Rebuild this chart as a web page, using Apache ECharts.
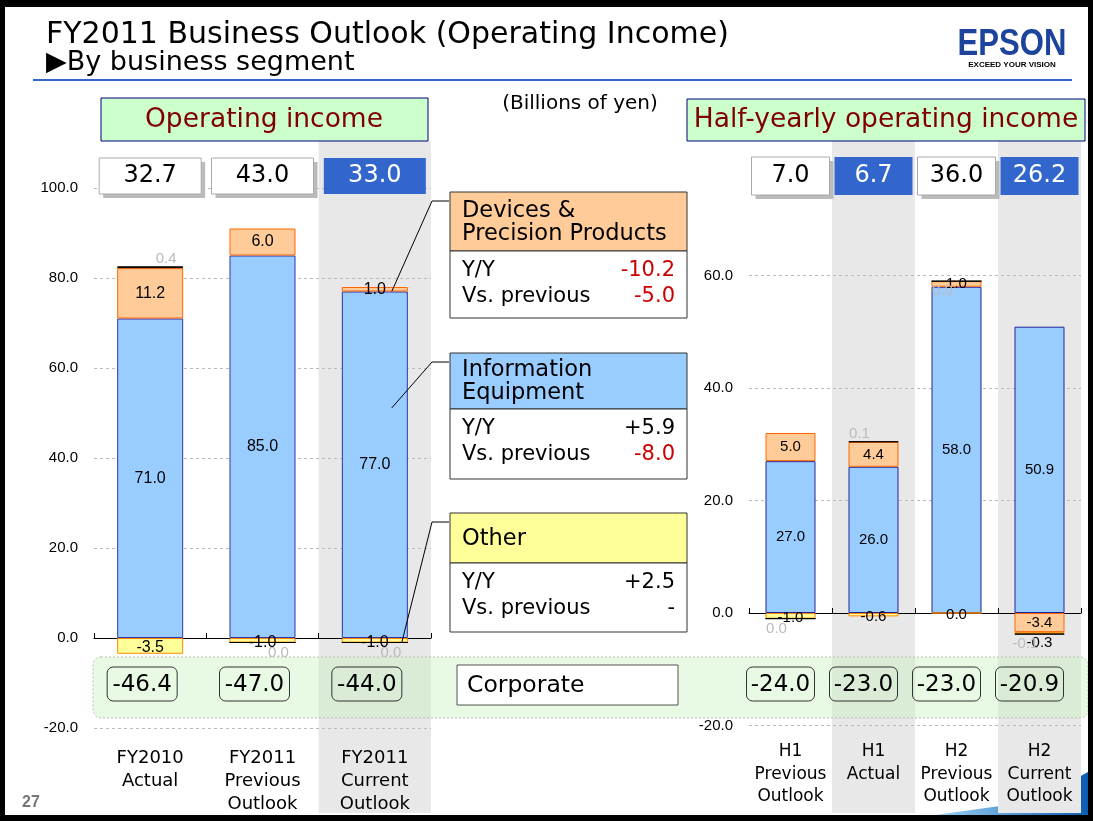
<!DOCTYPE html>
<html>
<head>
<meta charset="utf-8">
<script src="https://cdn.jsdelivr.net/npm/echarts@6/dist/echarts.min.js"></script>
<style>
html, body { margin: 0; padding: 0; background: #fff; }
#main { width: 1093px; height: 821px; }
</style>
</head>
<body>
<div id="main"></div>
<script>
// full year, billions of yen
var yearCats = ['FY2010\nActual', 'FY2011\nPrevious\nOutlook', 'FY2011\nCurrent\nOutlook'];
var infoYear = [71.0, 85.0, 77.0];
var devicesYear = [11.2, 6.0, 1.0];
var otherYear = [-3.5, -1.0, -1.0];
var elimYear = [0.4, 0.0, 0.0];
var corporateYear = [-46.4, -47.0, -44.0];
var totalYear = [32.7, 43.0, 33.0];
var currentYear = [false, false, true];

// half years
var halfCats = ['H1\nPrevious\nOutlook', 'H1\nActual', 'H2\nPrevious\nOutlook', 'H2\nCurrent\nOutlook'];
var infoHalf = [27.0, 26.0, 58.0, 50.9];
var devicesHalf = [5.0, 4.4, 1.0, -3.4];
var otherHalf = [-1.0, -0.6, 0.0, -0.3];
var elimHalf = [0.0, 0.1, 0.0, -0.1];
var corporateHalf = [-24.0, -23.0, -23.0, -20.9];
var totalHalf = [7.0, 6.7, 36.0, 26.2];
var currentHalf = [false, true, false, true];

// segment boxes
var segNames = ['Devices &\nPrecision Products', 'Information\nEquipment', 'Other'];
var segYoY = ['-10.2', '+5.9', '+2.5'];
var segVsPrev = ['-5.0', '-8.0', '-'];

var NUM = '"Liberation Sans", Arial, sans-serif';
var UI = '"DejaVu Sans", sans-serif';

function fmt(p) {
	return Number(p.value).toFixed(1);
}

function seg(name, data, side, fill, stroke, size, extra) {
	var s = {
		name: name,
		type: 'bar',
		xAxisIndex: side ? 2 : 0,
		yAxisIndex: side ? 1 : 0,
		stack: side ? 'half' : 'year',
		barWidth: side ? 50 : 66,
		data: data,
		itemStyle: { color: fill, borderColor: stroke, borderWidth: 1 },
		label: { show: true, position: 'inside', color: '#000', fontFamily: NUM, fontSize: size, formatter: fmt }
	};
	for (var k in extra) s[k] = extra[k];
	return s;
}

// small "other" values get their label under the bar
function otherData(arr) {
	return arr.map(function (v) {
		return Math.abs(v) < 0.5 && v !== 0 ? { value: v, label: { position: 'bottom', distance: 2 } } : { value: v, label: { offset: [0, 2] } };
	});
}

function elimData(arr, dx) {
	return arr.map(function (v) {
		return { value: v, label: { position: v > 0 ? 'top' : 'bottom', offset: [dx, v > 0 ? 5 : -3] } };
	});
}

function zeroAxis(grid, cats) {
	return {
		type: 'category', gridIndex: grid, data: cats, position: 'bottom',
		axisLine: { onZero: true, lineStyle: { color: '#000', width: 1 } },
		axisTick: { show: true, inside: true, length: 5, interval: 0, lineStyle: { color: '#000' } },
		axisLabel: { show: false },
		splitLine: { show: false }
	};
}

function labelAxis(grid, cats, size, lh, margin) {
	return {
		type: 'category', gridIndex: grid, data: cats, position: 'bottom',
		axisLine: { show: false, onZero: false },
		axisTick: { show: false },
		splitLine: { show: false },
		axisLabel: { interval: 0, margin: margin, color: '#000', fontFamily: UI, fontSize: size, lineHeight: lh }
	};
}

function valAxis(grid, max) {
	return {
		type: 'value', gridIndex: grid, min: -20, max: max, interval: 20,
		axisLine: { show: false },
		axisTick: { show: false },
		axisLabel: { margin: 16, color: '#000', fontFamily: NUM, fontSize: 15, formatter: function (v) { return v.toFixed(1); } },
		splitLine: { lineStyle: { color: '#BBBBBB', type: [3, 3], width: 1 } }
	};
}

var option = {
	animation: false,
	grid: [
		{ left: 94, right: 662, top: 188, bottom: 93, outerBoundsMode: 'none' },
		{ left: 749, right: 12, top: 275.5, bottom: 95.5, outerBoundsMode: 'none' }
	],
	xAxis: [
		zeroAxis(0, yearCats),
		labelAxis(0, yearCats, 18, 23, 19),
		zeroAxis(1, halfCats),
		labelAxis(1, halfCats, 17, 22.5, 15)
	],
	yAxis: [valAxis(0, 100), valAxis(1, 60)],
	series: [
		seg('Information Equipment', infoYear, 0, '#99CCFF', '#3333AA', 16),
		seg('Devices & Precision Products', devicesYear, 0, '#FFCC99', '#FF6600', 16),
		seg('Other', otherData(otherYear), 0, '#FFFF99', '#FF8800', 16, { stackStrategy: 'negative' }),
		seg('Eliminations', elimData(elimYear, 16), 0, '#000', '#000', 15),
		seg('Information Equipment', infoHalf, 1, '#99CCFF', '#22229A', 15),
		seg('Devices & Precision Products', devicesHalf, 1, '#FFCC99', '#FF6600', 15),
		seg('Other', otherData(otherHalf), 1, '#FFFF99', '#FF8800', 15, { stackStrategy: 'negative' }),
		seg('Eliminations', elimData(elimHalf, -14), 1, '#000', '#000', 15)
	]
};
option.series[3].label.color = '#BBBBBB';
option.series[7].label.color = '#BBBBBB';

var chart = echarts.init(document.getElementById('main'));
chart.setOption(option);

function pt(side, i, v) {
	return chart.convertToPixel({ seriesIndex: side ? 4 : 0 }, [i, v]);
}
function txt(x, y, text, font, color, align, valign, extra) {
	var e = {
		type: 'text', x: x, y: y, z: 20,
		style: {
			text: text, font: font, fill: color,
			align: align || 'center', verticalAlign: valign || 'middle',
			textAlign: align || 'center', textVerticalAlign: valign || 'middle'
		}
	};
	for (var k in extra) e.style[k] = extra[k];
	return e;
}
function rect(x, y, w, h, fill, stroke, z, r, dash) {
	return {
		type: 'rect', z: z == null ? 10 : z,
		shape: { x: x, y: y, width: w, height: h, r: r || 0 },
		style: { fill: fill, stroke: stroke || null, lineWidth: 1, lineDash: dash || null }
	};
}

var g = [];
// slide frame and swoosh
g.push(rect(0, 0, 1093, 7, '#000', null, 30));
g.push(rect(0, 0, 5, 821, '#000', null, 30));
g.push(rect(1088, 0, 5, 821, '#000', null, 30));
g.push(rect(0, 815, 1093, 6, '#000', null, 30));
g.push({
	type: 'polygon', z: -3,
	shape: { points: [[935, 815], [1000, 806], [1050, 793], [1088, 772], [1088, 815]] },
	style: { fill: new echarts.graphic.LinearGradient(0, 0, 1, 0, [{ offset: 0, color: '#9FD3F5' }, { offset: 1, color: '#0A5DB0' }]) }
});

// title
g.push(txt(46, 35, 'FY2011 Business Outlook (Operating Income)', 'normal 30px ' + UI, '#000', 'left'));
g.push(txt(46, 63, '\u25B6By business segment', 'normal 27px ' + UI, '#000', 'left'));
g.push({ type: 'line', z: 10, shape: { x1: 33, y1: 80, x2: 1072, y2: 80 }, style: { stroke: '#3366CC', lineWidth: 2 } });
var logo = txt(1012, 45, 'EPSON', 'bold 37px "Liberation Sans", Arial', '#1C449C');
logo.scaleX = 0.84;
g.push(logo);
g.push(txt(1012, 65, 'EXCEED YOUR VISION', 'bold 8px "Liberation Sans", Arial', '#000'));
g.push(txt(22, 803, '27', 'bold 16px "Liberation Sans", Arial', '#777777', 'left'));

// section headers
g.push(rect(101, 98, 327, 43, '#CCFFCC', '#000080', 12));
g.push(txt(264, 120, 'Operating income', 'normal 26.5px ' + UI, '#800000'));
g.push(rect(687, 99, 398, 42, '#CCFFCC', '#000080', 12));
g.push(txt(886, 120, 'Half-yearly operating income', 'normal 26.5px ' + UI, '#800000'));
g.push(txt(580, 104, '(Billions of yen)', 'normal 20px ' + UI, '#000'));

// shaded current columns, totals and corporate boxes
var bwYear = pt(0, 1, 0)[0] - pt(0, 0, 0)[0];
var bwHalf = pt(1, 1, 0)[0] - pt(1, 0, 0)[0];
g.push(rect(93, 657, 995, 61, 'rgba(195,240,185,0.38)', '#BBBBBB', 5, 8, [2, 2]));

function columns(side, totals, corp, current, bw, boxW, boxTop, boxH, corpW) {
	for (var i = 0; i < totals.length; i++) {
		var c = pt(side, i, 0)[0];
		if (current[i]) g.push(rect(c - bw / 2, 141, bw, 672, '#E8E8E8', null, -1));
		if (!current[i]) g.push(rect(c - boxW / 2 + 4, boxTop + 4, boxW, boxH, '#BBBBBB', null, 9));
		g.push(rect(c - boxW / 2, boxTop, boxW, boxH, current[i] ? '#3366CC' : '#FFFFFF', current[i] ? null : '#AAAAAA', 10));
		g.push(txt(c, boxTop + boxH / 2, totals[i].toFixed(1), 'normal 24px ' + UI, current[i] ? '#FFFFFF' : '#000'));
		var cc = c - (side ? 10 : 8);
		g.push(rect(cc - corpW / 2, 667, corpW, 34, null, '#333333', 10, 6));
		g.push(txt(cc, 685, corp[i].toFixed(1), 'normal 23px ' + UI, '#000'));
	}
}
columns(0, totalYear, corporateYear, currentYear, bwYear, 102, 158, 36, 70);
columns(1, totalHalf, corporateHalf, currentHalf, bwHalf, 78, 157, 38, 68);

g.push(rect(457, 665, 221, 40, '#FFFFFF', '#555555', 10));
g.push(txt(467, 686, 'Corporate', 'normal 23.5px ' + UI, '#000', 'left'));

// segment call-outs
var callTop = [192, 353, 513];
var headH = [59, 56, 50];
var bodyH = [67, 70, 69];
var headFill = ['#FFCC99', '#99CCFF', '#FFFF99'];
var ends = [
	pt(0, 2, infoYear[2] + devicesYear[2] / 2),
	pt(0, 2, infoYear[2] * 0.67),
	pt(0, 2, otherYear[2] / 2)
];
var endDx = [17, 17, 27];
for (var s = 0; s < 3; s++) {
	var t = callTop[s];
	g.push(rect(450, t, 237, headH[s], headFill[s], '#333333', 10));
	g.push(rect(450, t + headH[s], 237, bodyH[s], '#FFFFFF', '#333333', 10));
	g.push(txt(462, t + headH[s] / 2 + 1, segNames[s], 'normal 22.5px ' + UI, '#000', 'left', 'middle', { lineHeight: 23 }));
	var b = t + headH[s];
	g.push(txt(462, b + 20, 'Y/Y', 'normal 21px ' + UI, '#000', 'left'));
	g.push(txt(462, b + 46, 'Vs. previous', 'normal 21px ' + UI, '#000', 'left'));
	g.push(txt(675, b + 20, segYoY[s], 'normal 21px ' + UI, segYoY[s].charAt(0) === '-' ? '#CC0000' : '#000', 'right'));
	g.push(txt(675, b + 46, segVsPrev[s], 'normal 21px ' + UI, segVsPrev[s].length > 1 && segVsPrev[s].charAt(0) === '-' ? '#CC0000' : '#000', 'right'));
	g.push({
		type: 'polyline', z: 15,
		shape: { points: [[449, t + 9], [432, t + 9], [ends[s][0] + endDx[s], ends[s][1] + 2]] },
		style: { stroke: '#000', lineWidth: 1, fill: null }
	});
}

chart.setOption({ graphic: g });
</script>
</body>
</html>
